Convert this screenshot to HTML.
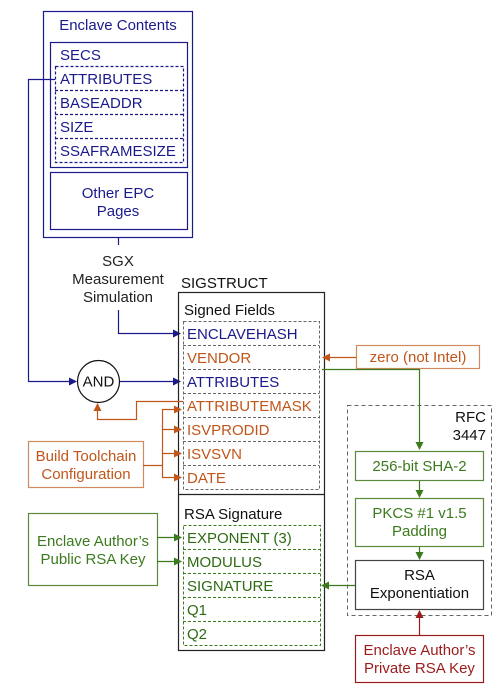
<!DOCTYPE html>
<html><head><meta charset="utf-8"><style>
body{margin:0;background:#fff}
svg text{font-family:"Liberation Sans",sans-serif;font-size:15px}
</style></head><body>
<svg width="504" height="692" viewBox="0 0 504 692">
<defs>
<marker id="ab" markerWidth="8" markerHeight="8" refX="7" refY="4" orient="auto" markerUnits="userSpaceOnUse"><path d="M0,0L8,4L0,8z" fill="#1a1a8c"/></marker>
<marker id="ao" markerWidth="8" markerHeight="8" refX="7" refY="4" orient="auto" markerUnits="userSpaceOnUse"><path d="M0,0L8,4L0,8z" fill="#c0561a"/></marker>
<marker id="ag" markerWidth="8" markerHeight="8" refX="7" refY="4" orient="auto" markerUnits="userSpaceOnUse"><path d="M0,0L8,4L0,8z" fill="#3c7a1e"/></marker>
<marker id="ar" markerWidth="8" markerHeight="8" refX="7" refY="4" orient="auto" markerUnits="userSpaceOnUse"><path d="M0,0L8,4L0,8z" fill="#9b1b1b"/></marker>
</defs>
<g fill="none" stroke="#1a1a8c" stroke-width="1.2">
<rect x="43.5" y="11.5" width="149" height="226"/>
<rect x="50.5" y="42.5" width="137" height="125"/>
<rect x="55.5" y="66.5" width="128" height="96" stroke-dasharray="3,2"/>
<line x1="55" y1="90.5" x2="183" y2="90.5" stroke-dasharray="3,2"/>
<line x1="55" y1="114.5" x2="183" y2="114.5" stroke-dasharray="3,2"/>
<line x1="55" y1="138.5" x2="183" y2="138.5" stroke-dasharray="3,2"/>
<rect x="50.5" y="172.5" width="137" height="57"/>
<line x1="118.5" y1="237" x2="118.5" y2="245"/>
<polyline points="118.5,310 118.5,333.5 180,333.5" marker-end="url(#ab)"/>
<polyline points="55,79.5 28.5,79.5 28.5,381.5 76,381.5" marker-end="url(#ab)"/>
<line x1="120" y1="381.5" x2="180" y2="381.5" marker-end="url(#ab)"/>
</g>
<g fill="#1a1a8c" text-anchor="middle">
<text x="118" y="30">Enclave Contents</text>
<text x="118" y="198">Other EPC</text>
<text x="118" y="216">Pages</text>
</g>
<g fill="#1a1a8c">
<text x="60" y="60">SECS</text>
<text x="60" y="84">ATTRIBUTES</text>
<text x="60" y="108">BASEADDR</text>
<text x="60" y="132">SIZE</text>
<text x="60" y="156">SSAFRAMESIZE</text>
</g>
<g fill="#222" text-anchor="middle">
<text x="118" y="266">SGX</text>
<text x="118" y="284">Measurement</text>
<text x="118" y="302">Simulation</text>
</g>
<text x="181" y="288" fill="#111">SIGSTRUCT</text>
<rect x="178.5" y="292.5" width="146" height="358" fill="none" stroke="#222" stroke-width="1.2"/>
<line x1="178" y1="494.5" x2="324" y2="494.5" stroke="#222" stroke-width="1.2"/>
<text x="184" y="315" fill="#111">Signed Fields</text>
<g fill="none" stroke="#666" stroke-dasharray="3,2" stroke-width="1">
<rect x="183.5" y="321.5" width="136" height="168"/>
<line x1="183" y1="345.5" x2="319" y2="345.5"/><line x1="183" y1="369.5" x2="319" y2="369.5"/>
<line x1="183" y1="393.5" x2="319" y2="393.5"/><line x1="183" y1="417.5" x2="319" y2="417.5"/>
<line x1="183" y1="441.5" x2="319" y2="441.5"/><line x1="183" y1="465.5" x2="319" y2="465.5"/>
</g>
<text x="187" y="339" fill="#1a1a8c">ENCLAVEHASH</text>
<text x="187" y="363" fill="#c0561a">VENDOR</text>
<text x="187" y="387" fill="#1a1a8c">ATTRIBUTES</text>
<text x="187" y="411" fill="#c0561a">ATTRIBUTEMASK</text>
<text x="187" y="435" fill="#c0561a">ISVPRODID</text>
<text x="187" y="459" fill="#c0561a">ISVSVN</text>
<text x="187" y="483" fill="#c0561a">DATE</text>
<text x="184" y="519" fill="#111">RSA Signature</text>
<g fill="none" stroke="#3c7a1e" stroke-dasharray="3,2" stroke-width="1">
<rect x="183.5" y="525.5" width="137" height="120"/>
<line x1="183" y1="549.5" x2="320" y2="549.5"/><line x1="183" y1="573.5" x2="320" y2="573.5"/>
<line x1="183" y1="597.5" x2="320" y2="597.5"/><line x1="183" y1="621.5" x2="320" y2="621.5"/>
</g>
<g fill="#2f6a14">
<text x="187" y="543">EXPONENT (3)</text>
<text x="187" y="567">MODULUS</text>
<text x="187" y="591">SIGNATURE</text>
<text x="187" y="615">Q1</text>
<text x="187" y="639">Q2</text>
</g>
<circle cx="98.5" cy="381.5" r="21" fill="#fff" stroke="#111" stroke-width="1.2"/>
<text x="98.5" y="386.5" text-anchor="middle" fill="#111">AND</text>
<g fill="none" stroke="#d08a60" stroke-width="1.2">
<rect x="356.5" y="345.5" width="123" height="23"/>
<rect x="28.5" y="441.5" width="115" height="46"/>
</g>
<g fill="none" stroke="#c0561a" stroke-width="1.2">
<line x1="356" y1="357.5" x2="323" y2="357.5" marker-end="url(#ao)"/>
<polyline points="183,401.5 136.5,401.5 136.5,419.5 97.5,419.5 97.5,404" marker-end="url(#ao)"/>
<line x1="143" y1="465.5" x2="162.5" y2="465.5"/>
<line x1="162.5" y1="409" x2="162.5" y2="477"/>
<line x1="162" y1="409.5" x2="181" y2="409.5" marker-end="url(#ao)"/>
<line x1="162" y1="429.5" x2="181" y2="429.5" marker-end="url(#ao)"/>
<line x1="162" y1="453.5" x2="181" y2="453.5" marker-end="url(#ao)"/>
<line x1="162" y1="477.5" x2="181" y2="477.5" marker-end="url(#ao)"/>
</g>
<text x="418" y="362" text-anchor="middle" fill="#c0561a">zero (not Intel)</text>
<g fill="#c0561a" text-anchor="middle"><text x="86" y="461">Build Toolchain</text><text x="86" y="479">Configuration</text></g>
<rect x="347.5" y="405.5" width="144" height="210" fill="none" stroke="#666" stroke-dasharray="4,3"/>
<g fill="#111" text-anchor="end"><text x="486" y="422">RFC</text><text x="486" y="440">3447</text></g>
<g fill="none" stroke="#5a8a3a" stroke-width="1.2">
<rect x="355.5" y="451.5" width="128" height="29"/>
<rect x="355.5" y="498.5" width="128" height="48"/>
<rect x="28.5" y="513.5" width="129" height="72"/>
</g>
<rect x="355.5" y="560.5" width="128" height="49" fill="none" stroke="#444" stroke-width="1.2"/>
<rect x="355.5" y="635.5" width="128" height="47" fill="none" stroke="#9b1b1b" stroke-width="1.2"/>
<g fill="none" stroke="#3c7a1e" stroke-width="1.2">
<polyline points="322,369.5 419.5,369.5 419.5,449" marker-end="url(#ag)"/>
<line x1="419.5" y1="481" x2="419.5" y2="497" marker-end="url(#ag)"/>
<line x1="419.5" y1="547" x2="419.5" y2="559" marker-end="url(#ag)"/>
<line x1="355" y1="585.5" x2="322" y2="585.5" marker-end="url(#ag)"/>
<line x1="157" y1="537.5" x2="181" y2="537.5" marker-end="url(#ag)"/>
<line x1="157" y1="561.5" x2="181" y2="561.5" marker-end="url(#ag)"/>
</g>
<line x1="419.5" y1="635" x2="419.5" y2="611" stroke="#9b1b1b" stroke-width="1.2" marker-end="url(#ar)"/>
<g text-anchor="middle">
<text x="419.5" y="471" fill="#3c7a1e">256-bit SHA-2</text>
<text x="419.5" y="518" fill="#3c7a1e">PKCS #1 v1.5</text>
<text x="419.5" y="536" fill="#3c7a1e">Padding</text>
<text x="419.5" y="580" fill="#111">RSA</text>
<text x="419.5" y="598" fill="#111">Exponentiation</text>
<text x="419.5" y="655" fill="#9b1b1b">Enclave Author’s</text>
<text x="419.5" y="673" fill="#9b1b1b">Private RSA Key</text>
<text x="93" y="546" fill="#3c7a1e">Enclave Author’s</text>
<text x="93" y="564" fill="#3c7a1e">Public RSA Key</text>
</g>
</svg>
</body></html>
